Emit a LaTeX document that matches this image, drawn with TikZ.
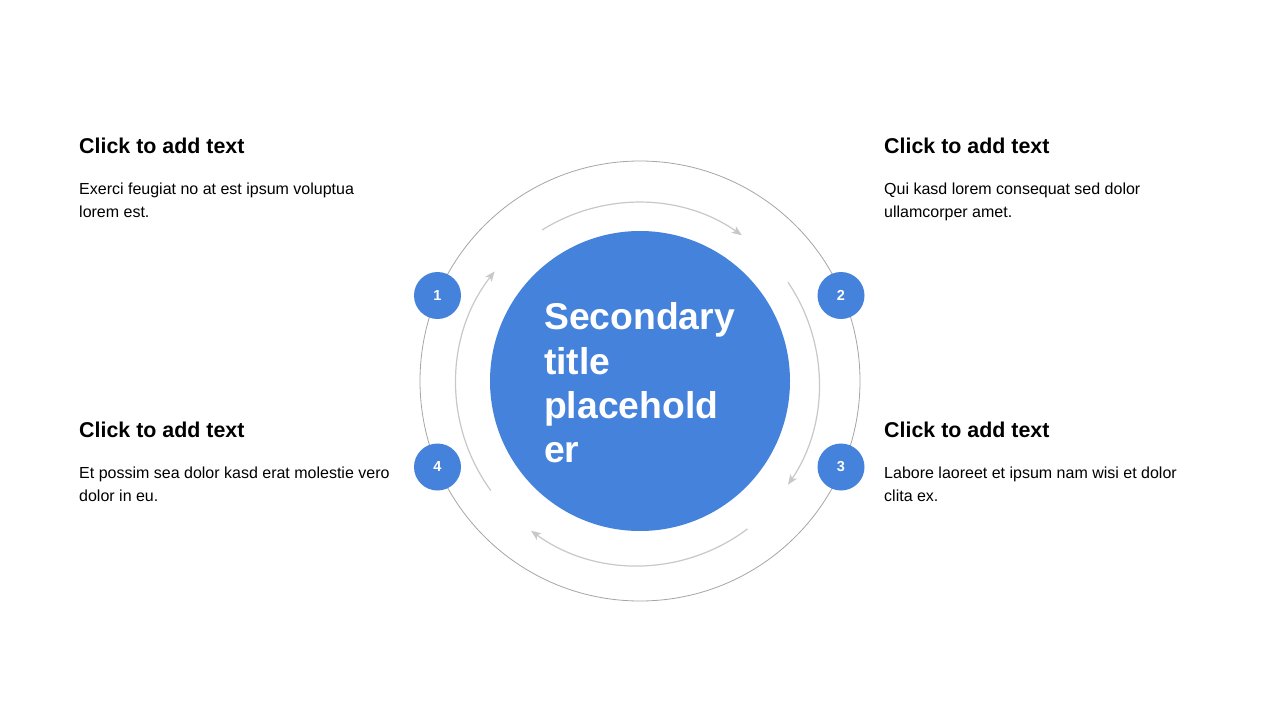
\documentclass[tikz,border=0pt]{standalone}
\usepackage{fontspec}
\setmainfont{Liberation Sans}
\usetikzlibrary{arrows.meta}
\definecolor{mainblue}{RGB}{69,130,220}
\definecolor{ringgray}{RGB}{165,165,165}
\definecolor{arcgray}{RGB}{200,200,200}
\begin{document}
\begin{tikzpicture}[x=1pt,y=-1pt,
  ring/.style={draw=ringgray, line width=0.8pt},
  flow/.style={draw=arcgray, line width=1.2pt, -{Stealth[length=10pt,width=8pt,inset=2.5pt]}},
  numbox/.style={circle, fill=mainblue, minimum size=47pt, inner sep=0pt, text=white, font=\fontsize{14.5}{16}\selectfont\bfseries},
  headtext/.style={anchor=base west, inner sep=0pt, font=\fontsize{21.4}{25}\selectfont\bfseries},
  bodytext/.style={anchor=north west, inner sep=0pt, align=left, font=\fontsize{16}{23}\selectfont},
]
\useasboundingbox (0,0) rectangle (1280,720);
\fill[white] (0,0) rectangle (1280,720);
\coordinate (O) at (640,381);
\coordinate (I) at (638,383.5);
% outer ring
\draw[ring] (O) circle[radius=220];
% inner flow arcs (clockwise)
\draw[flow] (I) ++(-122:181) coordinate (a1) arc[start angle=-122, end angle=-55, radius=181];
\draw[flow] (I) ++(-34:181) coordinate (a2) arc[start angle=-34, end angle=34, radius=181];
\draw[flow] (I) ++(53:182) coordinate (a3) arc[start angle=53, end angle=126, radius=182];
\draw[flow] (I) ++(-216:182) coordinate (a4) arc[start angle=-216, end angle=-142, radius=182];
% centre circle
\node[circle, fill=mainblue, minimum size=300pt, inner sep=0pt] (c) at (O) {};
\node[anchor=north west, inner sep=0pt, text=white, align=left,
      font=\fontsize{37.3}{44.3}\selectfont\bfseries] (title) at (544,302.5) {Secondary\\title\\placehold\\er};
% numbered circles
\node[numbox] (n1) at (437.5,295.5) {1};
\node[numbox] (n2) at (841,295.5) {2};
\node[numbox] (n3) at (841,467) {3};
\node[numbox] (n4) at (437.5,467) {4};
% text blocks
\node[headtext] (h1) at (79,153) {Click to add text};
\node[bodytext] (b1) at (79,182.5) {Exerci feugiat no at est ipsum voluptua\\lorem est.};
\node[headtext] (h2) at (884,153) {Click to add text};
\node[bodytext] (b2) at (884,182.5) {Qui kasd lorem consequat sed dolor\\ullamcorper amet.};
\node[headtext] (h4) at (79,437) {Click to add text};
\node[bodytext] (b4) at (79,466.5) {Et possim sea dolor kasd erat molestie vero\\dolor in eu.};
\node[headtext] (h3) at (884,437) {Click to add text};
\node[bodytext] (b3) at (884,466.5) {Labore laoreet et ipsum nam wisi et dolor\\clita ex.};
\end{tikzpicture}
\end{document}
